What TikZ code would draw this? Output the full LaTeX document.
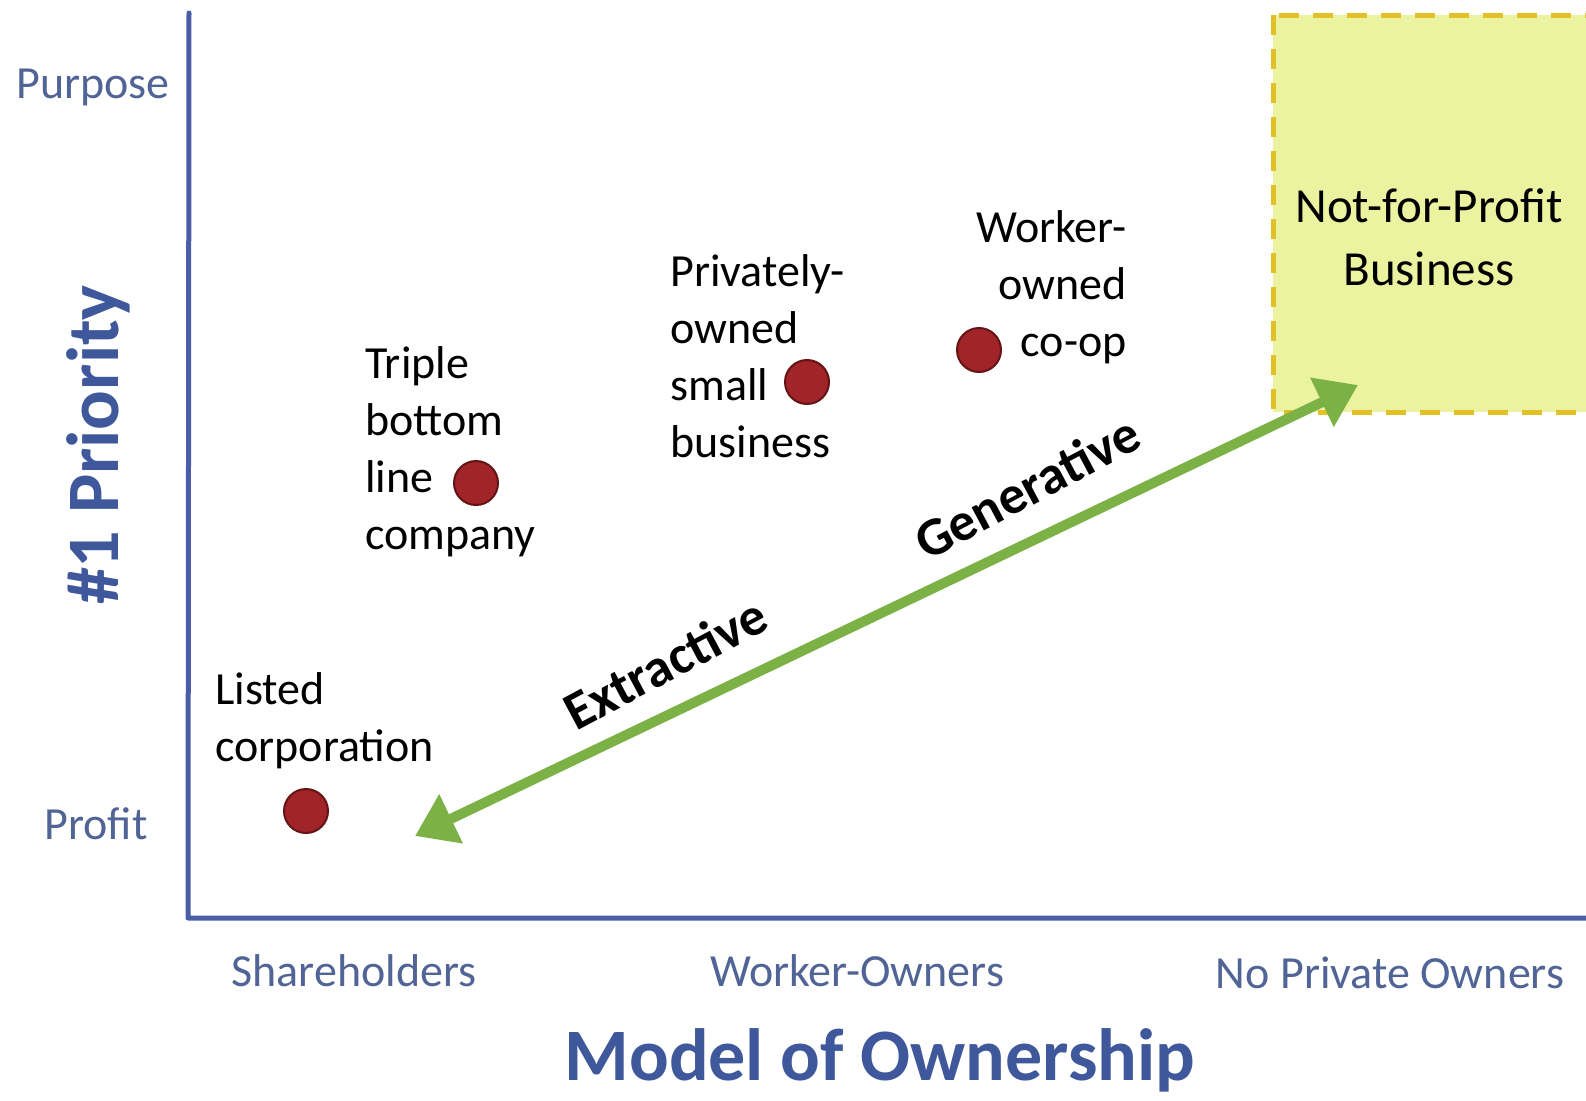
\documentclass[tikz,border=0pt]{standalone}
\usepackage{fontspec}
\setmainfont{Carlito}
\usetikzlibrary{arrows.meta}
\definecolor{axisblue}{RGB}{74,94,168}
\definecolor{ticktext}{RGB}{80,100,150}
\definecolor{titleblue}{RGB}{62,88,155}
\definecolor{dotred}{RGB}{160,36,40}
\definecolor{dotedge}{RGB}{100,20,20}
\definecolor{arrowgreen}{RGB}{124,177,70}
\definecolor{boxfill}{RGB}{236,243,160}
\definecolor{boxedge}{RGB}{228,192,40}
\tikzset{
  ticklabel/.style={font=\fontsize{23}{28}\selectfont, text=ticktext, inner sep=0pt},
  title/.style={font=\fontsize{37}{44}\selectfont\bfseries, text=titleblue, inner sep=0pt},
  itemlabel/.style={font=\fontsize{23}{28.5}\selectfont, text=black, inner sep=0pt},
  dot/.style={circle, fill=dotred, draw=dotedge, line width=1pt, minimum size=22pt, inner sep=0pt},
  flowlabel/.style={font=\fontsize{27}{32}\selectfont\bfseries, text=black, inner sep=0pt, rotate=28},
  axisline/.style={draw=axisblue, line width=2.5pt, line join=round, line cap=round},
}
\begin{document}
\begin{tikzpicture}[x=0.5pt, y=-0.5pt]
\useasboundingbox (0,0) rectangle (1586,1100);
\fill[white] (0,0) rectangle (1586,1100);
\begin{scope}
\clip (0,0) rectangle (1586,1100);
\draw[fill=boxfill, draw=boxedge, line width=2.5pt, dash pattern=on 10pt off 7pt] (1273,15) rectangle (1620,412);
\end{scope}
\node[font=\fontsize{24.5}{31.5}\selectfont, align=center, inner sep=0pt] (npb) at (1429,237) {Not-for-Profit\\Business};
% axes
\coordinate (ytop) at (189,13);
\coordinate (origin) at (188,918);
\coordinate (xend) at (1600,918);
\draw[axisline] (ytop) -- (origin) -- (xend);
% axis labels
\node[ticklabel] (purpose) at (93,87) {Purpose};
\node[ticklabel] (profit) at (96,824) {Profit};
\node[ticklabel] (share) at (354,971) {Shareholders};
\node[ticklabel] (workown) at (857,971) {Worker-Owners};
\node[ticklabel] (noprivate) at (1390,973) {No Private Owners};
\node[title, rotate=90] (priority) at (98,445) {\#1 Priority};
\node[title] (model) at (880,1060) {Model of Ownership};
% arrow
\coordinate (ext) at (415,836);
\coordinate (gen) at (1358,385);
\draw[draw=arrowgreen, line width=5pt, {Triangle[length=20pt, width=26pt]}-{Triangle[length=20pt, width=26pt]}] (ext) -- (gen);
\node[flowlabel] (extractive) at (665,663) {Extractive};
\node[flowlabel] (generative) at (1027,487) {Generative};
% dots
\node[dot] (d1) at (306,811) {};
\node[dot] (d2) at (476,483) {};
\node[dot] (d3) at (807,382) {};
\node[dot] (d4) at (979,350) {};
% labels
\node[itemlabel, align=left, anchor=west] (l1) at (215,721) {Listed\\corporation};
\node[itemlabel, align=left, anchor=west] (l2) at (365,452) {Triple\\bottom\\line\\company};
\node[itemlabel, align=left, anchor=west] (l3) at (670,356) {Privately-\\owned\\small\\business};
\node[itemlabel, align=right, anchor=east] (l4) at (1127,287) {Worker-\\owned\\co-op};
\end{tikzpicture}
\end{document}
